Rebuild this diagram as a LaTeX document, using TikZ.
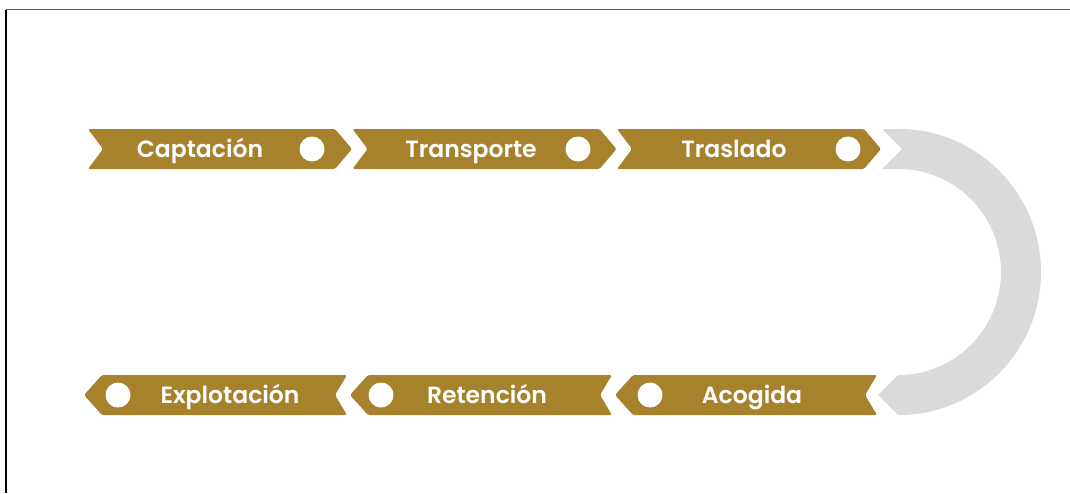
\documentclass[tikz,border=0pt]{standalone}
\usepackage{fontspec}
\newfontfamily\lab{Poppins}[UprightFont=* SemiBold]
\definecolor{gold}{HTML}{A6822C}
\definecolor{ring}{HTML}{DADADA}
\begin{document}
\begin{tikzpicture}[x=1pt,y=1pt,yscale=-1,
  chev/.style={fill=gold, rounded corners=1.5pt},
  dot/.style={circle, fill=white, minimum size=25pt, inner sep=0pt},
  lbl/.style={text=white, font=\lab\fontsize{23.5}{26}\selectfont, inner sep=0pt, anchor=base},
  frameline/.style={line width=1.3pt}]
\useasboundingbox (0,0) rectangle (1070,493);
\draw[frameline, black!65] (6,9.5) -- (1070,9.5);
\draw[frameline, black] (6,9.5) -- (6,493);
% gray ring
\fill[ring, rounded corners=1pt] (882,129) -- (898,129) arc[start angle=-90, end angle=90, radius=143pt]
  -- (878,395) -- (898,375) arc[start angle=90, end angle=-90, radius=103pt]
  -- (882,169) -- (902,149) -- cycle;
% top row
\foreach \L in {88,352.5,617}{
  \fill[chev] (\L,129) -- (\L+247,129) -- (\L+264,149) -- (\L+247,169) -- (\L,169) -- (\L+15,149) -- cycle;
}
% bottom row
\foreach \T/\R in {84/347,350/612,615/877}{
  \fill[chev] (\T,395) -- (\T+18,375) -- (\R,375) -- (\R-12,395) -- (\R,415) -- (\T+18,415) -- cycle;
}
\node[lbl] (t1) at (200,157.5) {Captación};
\node[lbl] (t2) at (471,157.5) {Transporte};
\node[lbl] (t3) at (734,157.5) {Traslado};
\node[lbl] (b1) at (230,403.5) {Explotación};
\node[lbl] (b2) at (487,403.5) {Retención};
\node[lbl] (b3) at (752,403.5) {Acogida};
\node[dot] (d1) at (312,149) {};
\node[dot] (d2) at (578,149) {};
\node[dot] (d3) at (848,149) {};
\node[dot] (e1) at (118,395) {};
\node[dot] (e2) at (381,395) {};
\node[dot] (e3) at (650,395) {};
\end{tikzpicture}
\end{document}
